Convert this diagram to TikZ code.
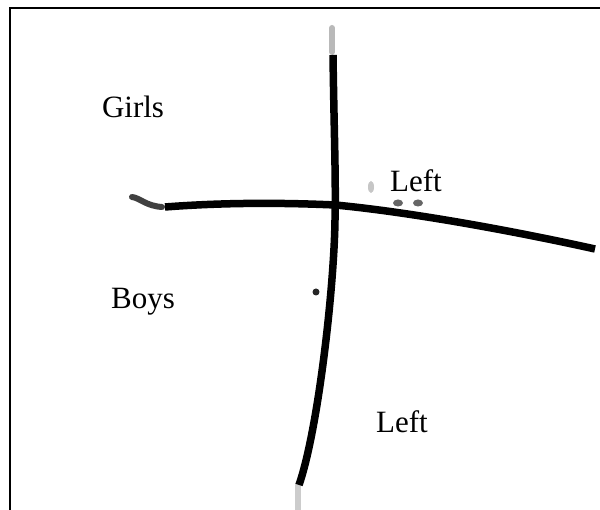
\documentclass[tikz,border=0pt]{standalone}
\usepackage{fontspec}
\setmainfont{Liberation Serif}
\begin{document}
\begin{tikzpicture}[x=1pt,y=1pt,
  lbl/.style={font=\fontsize{31}{35}\selectfont, inner sep=0pt, anchor=base},
  stroke/.style={line width=7.5pt, line cap=butt, black},
  smudge/.style={line width=6pt, line cap=round}]
\useasboundingbox (0,0) rectangle (600,510);
\clip (0,0) rectangle (600,510);
\fill[white] (0,0) rectangle (600,510);
% frame
\draw[line width=2pt] (10,-10) -- (10,502) -- (620,502);
% smudges
\draw[smudge, gray!55] (332,482) -- (332,458);
\draw[smudge, gray!40] (298,25) -- (298,0);
\draw[smudge, black!75] (132,313) .. controls (140,312) and (146,304) .. (162,303);
\fill[black!85] (316,218) circle (3.5);
\fill[gray!45] (371,323) ellipse (3 and 6);
\fill[black!60] (398,307) ellipse (5 and 3.5);
\fill[black!60] (418,307) ellipse (5 and 3.5);
% main lines
\coordinate (vtop) at (333,455);
\coordinate (vmid) at (335,290);
\coordinate (vbot) at (299,25);
\coordinate (hl) at (165,303);
\coordinate (hmid) at (335,305);
\coordinate (hr) at (595,261);
\draw[stroke] (vtop) .. controls (334,380) and (336,330) .. (vmid)
  .. controls (334,220) and (318,80) .. (vbot);
\draw[stroke] (hl) .. controls (230,308) and (290,307) .. (hmid)
  .. controls (400,299) and (500,282) .. (hr);
% labels
\node[lbl] (girls) at (133,392) {Girls};
\node[lbl] (left1) at (416,318) {Left};
\node[lbl] (boys) at (143,201) {Boys};
\node[lbl] (left2) at (402,77) {Left};
\end{tikzpicture}
\end{document}
